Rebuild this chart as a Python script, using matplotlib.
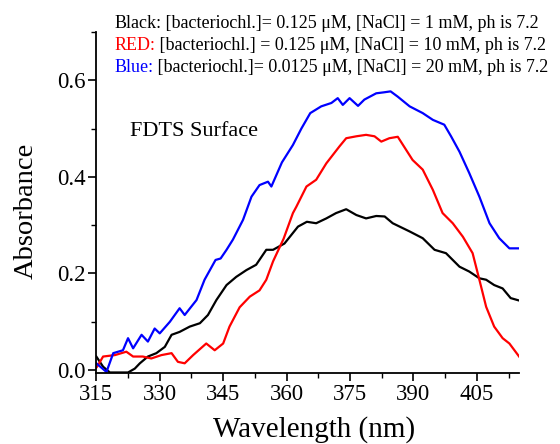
import matplotlib
matplotlib.use("Agg")
import matplotlib.pyplot as plt
from matplotlib.ticker import MultipleLocator, FormatStrFormatter

plt.rcParams['font.family'] = ['Liberation Serif', 'DejaVu Serif']

# blue: 0.0125 uM, 20 mM NaCl
blue_wl = [315.0, 317.4, 319.0, 321.3, 322.5, 323.7, 325.7, 327.2, 328.8, 330.0,
           332.4, 334.7, 335.9, 338.7, 340.6, 343.2, 344.4, 345.8, 347.3, 349.7,
           351.7, 353.6, 355.6, 356.4, 358.9, 361.5, 363.5, 365.6, 368.2, 370.6,
           372.1, 373.3, 374.9, 376.9, 378.4, 381.2, 383.0, 384.6, 386.3, 389.1,
           392.2, 394.6, 397.3, 398.9, 400.9, 403.2, 405.6, 408.0, 410.3, 412.7, 415.0]
blue_abs = [0.014, -0.004, 0.035, 0.041, 0.066, 0.045, 0.073, 0.059, 0.086, 0.076,
            0.100, 0.128, 0.114, 0.145, 0.187, 0.228, 0.231, 0.249, 0.270, 0.311,
            0.359, 0.383, 0.390, 0.380, 0.430, 0.466, 0.500, 0.532, 0.546, 0.553,
            0.563, 0.549, 0.563, 0.547, 0.560, 0.573, 0.575, 0.577, 0.566, 0.546,
            0.532, 0.518, 0.508, 0.484, 0.452, 0.408, 0.359, 0.304, 0.273, 0.252, 0.252]

# red: 0.125 uM, 10 mM NaCl
red_wl = [315.0, 315.4, 316.6, 319.4, 322.1, 323.7, 326.0, 328.0, 330.4, 332.8,
          334.3, 335.9, 337.9, 341.0, 343.0, 345.0, 346.5, 348.9, 351.3, 353.6,
          355.2, 356.8, 359.3, 361.5, 362.3, 364.7, 367.0, 369.4, 372.5, 374.1,
          376.5, 378.8, 380.8, 382.4, 384.3, 386.3, 389.8, 392.2, 394.6, 396.9,
          399.3, 401.7, 404.0, 405.6, 407.2, 409.1, 411.1, 412.7, 415.0]
red_abs = [0.005, 0.010, 0.028, 0.031, 0.038, 0.028, 0.028, 0.024, 0.031, 0.035,
           0.017, 0.014, 0.031, 0.055, 0.041, 0.055, 0.090, 0.130, 0.152, 0.165,
           0.187, 0.225, 0.272, 0.325, 0.338, 0.380, 0.394, 0.428, 0.463, 0.480,
           0.484, 0.487, 0.484, 0.473, 0.480, 0.483, 0.435, 0.415, 0.373, 0.325,
           0.304, 0.276, 0.242, 0.187, 0.131, 0.090, 0.066, 0.055, 0.028]

# black: 0.125 uM, 1 mM NaCl
black_wl = [315.0, 316.6, 318.2, 320.5, 322.5, 324.1, 325.3, 327.2, 329.2, 331.2,
            332.8, 334.7, 337.1, 339.5, 341.4, 343.4, 345.8, 348.1, 350.5, 352.8,
            355.2, 356.8, 359.5, 362.7, 364.8, 367.0, 369.4, 371.7, 374.1, 376.5,
            378.8, 381.2, 383.2, 385.1, 389.1, 392.2, 395.0, 397.7, 400.9, 403.2,
            405.6, 407.2, 409.1, 411.1, 413.0, 415.0]
black_abs = [0.028, 0.007, -0.005, -0.005, -0.005, 0.003, 0.014, 0.028, 0.035, 0.048,
             0.073, 0.079, 0.090, 0.097, 0.114, 0.145, 0.176, 0.193, 0.207, 0.218,
             0.249, 0.249, 0.262, 0.297, 0.307, 0.304, 0.314, 0.325, 0.333, 0.321,
             0.314, 0.319, 0.318, 0.304, 0.287, 0.273, 0.249, 0.242, 0.214, 0.204,
             0.190, 0.187, 0.176, 0.169, 0.149, 0.144]

legend_lines = [
    ("Black:", "black", " [bacteriochl.]= 0.125 \u03bcM, [NaCl] = 1 mM, ph is 7.2"),
    ("RED:", "#ff0000", " [bacteriochl.] = 0.125 \u03bcM, [NaCl] = 10 mM, ph is 7.2"),
    ("Blue:", "#0000ff", " [bacteriochl.]= 0.0125 \u03bcM, [NaCl] = 20 mM, ph is 7.2"),
]

fig = plt.figure(figsize=(5.6, 4.44), dpi=100)
ax = fig.add_axes([0.172, 0.16, 0.755, 0.768])

ax.plot(black_wl, black_abs, color='black', lw=1.6)
ax.plot(red_wl, red_abs, color='#ff0000', lw=1.6)
ax.plot(blue_wl, blue_abs, color='#0000ff', lw=1.6)

ax.set_xlim(315, 415)
ax.set_ylim(-0.006, 0.70)
ax.xaxis.set_major_locator(MultipleLocator(15))
ax.xaxis.set_minor_locator(MultipleLocator(7.5))
ax.yaxis.set_major_locator(MultipleLocator(0.2))
ax.yaxis.set_minor_locator(MultipleLocator(0.1))
ax.yaxis.set_major_formatter(FormatStrFormatter('%.1f'))

for s in ['top', 'right']:
    ax.spines[s].set_visible(False)
for s in ['left', 'bottom']:
    ax.spines[s].set_linewidth(1.3)
ax.tick_params(which='major', direction='out', length=6, width=1.2, labelsize=16.5)
ax.tick_params(axis='x', which='major', pad=2)
ax.tick_params(axis='y', which='major', pad=1.5)
ax.tick_params(which='minor', direction='out', length=3.5, width=1.0)

ax.set_xlabel('Wavelength (nm)', fontsize=21)
ax.set_ylabel('Absorbance', fontsize=20.5)
ax.xaxis.set_label_coords(0.515, -0.126)
ax.yaxis.set_label_coords(-0.137, 0.475)

ax.text(0.079, 0.707, 'FDTS Surface', transform=ax.transAxes, fontsize=16,
        va='center', ha='left')

y0 = 0.948
for i, (prefix, col, rest) in enumerate(legend_lines):
    t = fig.text(0.204, y0 - i * 0.0495, prefix, color=col, fontsize=13,
                 ha='left', va='center')
    ax.annotate(rest, xy=(1, 0), xycoords=t, fontsize=13, color='black',
                ha='left', va='bottom', annotation_clip=False)

fig.savefig('out.png', dpi=100)
